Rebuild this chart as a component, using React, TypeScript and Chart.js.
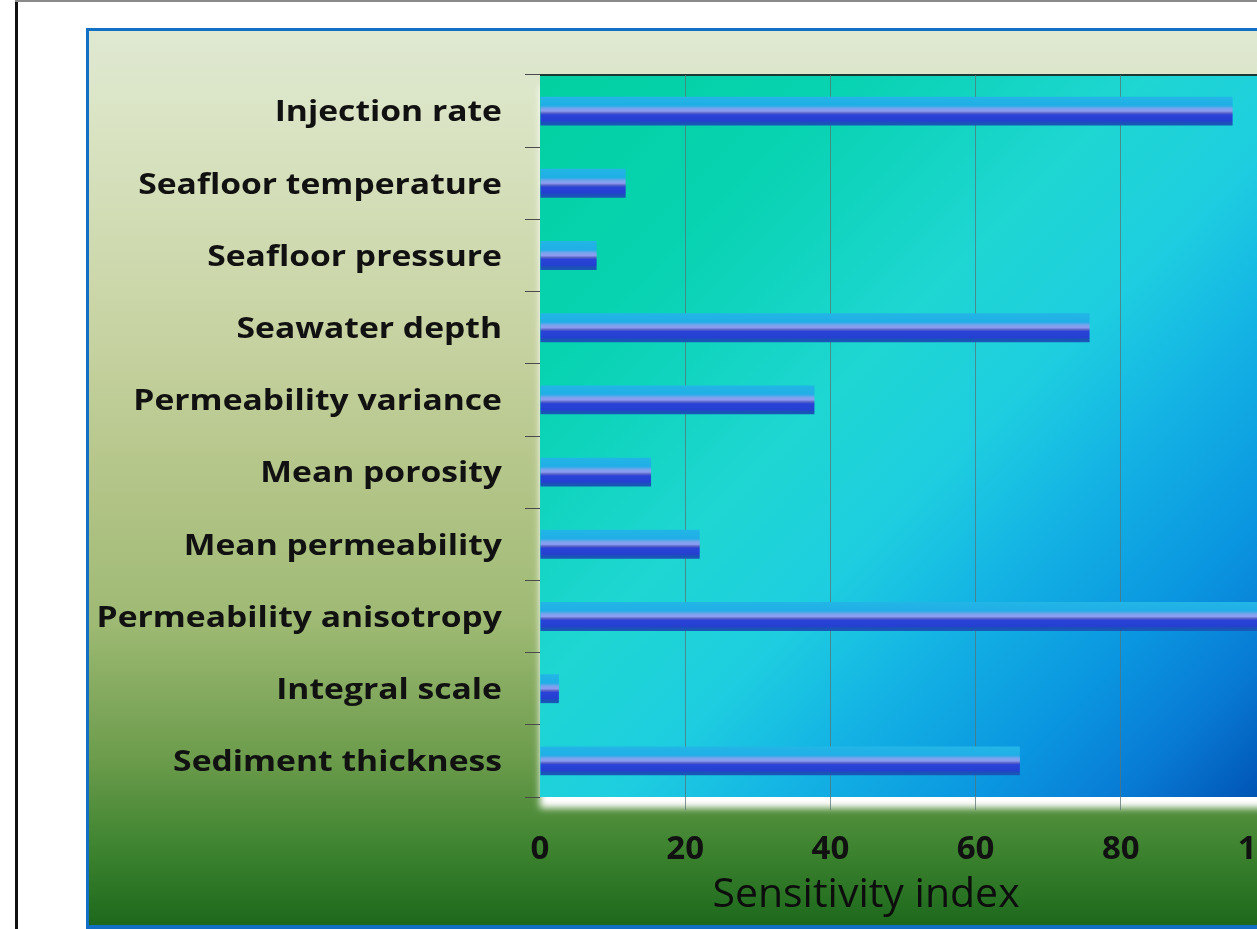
import React, { useEffect, useRef } from 'react';
import { Chart, registerables } from 'chart.js';

Chart.register(...registerables);

// Sensitivity of each model factor
const factors = [
  'Injection rate',
  'Seafloor temperature',
  'Seafloor pressure',
  'Seawater depth',
  'Permeability variance',
  'Mean porosity',
  'Mean permeability',
  'Permeability anisotropy',
  'Integral scale',
  'Sediment thickness',
];
const sensitivity = [95.4, 11.8, 7.8, 75.7, 37.8, 15.3, 22.0, 100, 2.6, 66.1];
const xTickValues = [0, 20, 40, 60, 80, 100];
const axisTitle = 'Sensitivity index';

// Canvas geometry
const CANVAS_W = 1250;
const CANVAS_H = 901;
const PLOT_LEFT = 454;
const PLOT_TOP = 47;
const PLOT_BOTTOM = 769;
const PAD_RIGHT = 70;

const LABEL_FONT = 'bold 29px "Open Sans"';
const LABEL_STRETCH = 1.16;
const LABEL_RIGHT = 416;
const LABEL_SHIFT = 2;
const TITLE_X = 780;
const TITLE_Y = 867;

const backdrop = {
  id: 'backdrop',
  beforeDraw(chart: any) {
    const { ctx, width, height, chartArea: a } = chart;
    ctx.save();

    // panel background: pale olive at the top to deep green at the bottom
    const bg = ctx.createLinearGradient(0, 0, 0, height);
    bg.addColorStop(0, '#dfe8d2');
    bg.addColorStop(0.09, '#dbe5c6');
    bg.addColorStop(0.335, '#c8d3a3');
    bg.addColorStop(0.49, '#b5c68a');
    bg.addColorStop(0.657, '#9fba74');
    bg.addColorStop(0.81, '#6c9c4c');
    bg.addColorStop(0.91, '#3e8430');
    bg.addColorStop(1, '#1b671b');
    ctx.fillStyle = bg;
    ctx.fillRect(0, 0, width, height);

    const w = a.right - a.left;
    const h = a.bottom - a.top;

    // soft white shadow under the plot area
    ctx.save();
    ctx.shadowColor = '#ffffff';
    ctx.shadowBlur = 7;
    ctx.shadowOffsetY = 11;
    ctx.fillStyle = '#ffffff';
    ctx.fillRect(a.left, a.top, w, h);
    ctx.restore();

    // plot area: teal -> cyan -> blue along the diagonal
    const pg = ctx.createLinearGradient(a.left, a.top, a.right, a.bottom);
    pg.addColorStop(0, '#02d0a0');
    pg.addColorStop(0.22, '#08d3b2');
    pg.addColorStop(0.42, '#1ed6d2');
    pg.addColorStop(0.55, '#1ecee0');
    pg.addColorStop(0.66, '#14b4e4');
    pg.addColorStop(0.8, '#0a96e0');
    pg.addColorStop(0.9, '#087ad4');
    pg.addColorStop(1, '#0052b2');
    ctx.fillStyle = pg;
    ctx.fillRect(a.left, a.top, w, h);

    // dark top edge of the plot area
    ctx.strokeStyle = '#1b3a33';
    ctx.lineWidth = 2;
    ctx.beginPath();
    ctx.moveTo(a.left, a.top);
    ctx.lineTo(width, a.top);
    ctx.stroke();

    // blue frame of the chart panel
    ctx.strokeStyle = '#1170c4';
    ctx.lineWidth = 3;
    ctx.beginPath();
    ctx.moveTo(width + 5, 1.5);
    ctx.lineTo(1.5, 1.5);
    ctx.lineTo(1.5, height);
    ctx.stroke();
    ctx.fillStyle = '#1170c4';
    ctx.fillRect(0, height - 4, width, 4);

    ctx.restore();
  },
};

const labelsAndTitle = {
  id: 'labelsAndTitle',
  afterDraw(chart: any) {
    const { ctx } = chart;
    const ys = chart.scales.y;
    ctx.save();
    ctx.fillStyle = '#111111';
    ctx.font = LABEL_FONT;
    ctx.textAlign = 'right';
    ctx.textBaseline = 'middle';
    factors.forEach((name, i) => {
      const py = ys.getPixelForValue(i) + LABEL_SHIFT;
      ctx.save();
      ctx.translate(LABEL_RIGHT, py);
      ctx.scale(LABEL_STRETCH, 1);
      ctx.fillText(name, 0, 0);
      ctx.restore();
    });

    ctx.font = '41px "Open Sans"';
    ctx.textAlign = 'center';
    ctx.fillStyle = '#0d0d0d';
    ctx.fillText(axisTitle, TITLE_X, TITLE_Y);
    ctx.restore();
  },
};

function barFill(c: any) {
  const chart = c.chart;
  const ys = chart.scales && chart.scales.y;
  if (!ys || c.dataIndex === undefined) return '#2a44d8';
  const center = ys.getPixelForValue(c.dataIndex);
  const half = (((ys.bottom - ys.top) / factors.length) * 0.4) / 2;
  if (!Number.isFinite(center) || !Number.isFinite(half) || half <= 0) return '#2a44d8';
  const g = chart.ctx.createLinearGradient(0, center - half, 0, center + half);
  g.addColorStop(0, '#22b6e6');
  g.addColorStop(0.3, '#20aee6');
  g.addColorStop(0.42, '#7ea2ee');
  g.addColorStop(0.5, '#8c9cf0');
  g.addColorStop(0.57, '#5862c6');
  g.addColorStop(0.63, '#2a42d8');
  g.addColorStop(0.84, '#2440d0');
  g.addColorStop(0.9, '#1a52b8');
  g.addColorStop(1, '#1a58b8');
  return g;
}

export default function App() {
  const ref = useRef<HTMLCanvasElement>(null);

  useEffect(() => {
    if (!ref.current) return;
    const chart = new Chart(ref.current, {
      type: 'bar',
      data: {
        labels: factors,
        datasets: [
          {
            data: sensitivity,
            backgroundColor: barFill,
            borderWidth: 0,
            categoryPercentage: 0.8,
            barPercentage: 0.5,
          },
        ],
      },
      options: {
        indexAxis: 'y',
        responsive: false,
        animation: false,
        events: [],
        layout: { padding: { left: 0, top: PLOT_TOP, right: PAD_RIGHT, bottom: 0 } },
        plugins: {
          legend: { display: false },
          tooltip: { enabled: false },
        },
        scales: {
          x: {
            min: 0,
            max: 100,
            afterBuildTicks: (s: any) => {
              s.ticks = xTickValues.map((v) => ({ value: v }));
            },
            afterFit: (s: any) => {
              s.height = CANVAS_H - PLOT_BOTTOM;
            },
            border: { display: false },
            grid: {
              color: (c: any) => (c.tick && c.tick.value === 0 ? 'rgba(0,0,0,0)' : 'rgba(90,115,115,0.75)'),
              lineWidth: 1,
              drawTicks: true,
              tickLength: 13,
            },
            ticks: {
              color: '#111111',
              font: { family: '"Open Sans"', size: 33, weight: 'bold' },
              padding: 20,
              maxRotation: 0,
            },
          },
          y: {
            afterFit: (s: any) => {
              s.width = PLOT_LEFT;
            },
            border: { display: false },
            grid: {
              drawOnChartArea: false,
              drawTicks: true,
              tickLength: 15,
              color: '#4a4a4a',
              lineWidth: 1,
            },
            ticks: { display: false },
          },
        },
      },
      plugins: [backdrop, labelsAndTitle],
    });
    return () => chart.destroy();
  }, []);

  return (
    <div
      style={{
        position: 'fixed',
        left: 0,
        top: 0,
        width: 1257,
        height: 929,
        overflow: 'hidden',
        background: '#ffffff',
      }}
    >
      <div style={{ position: 'absolute', left: 15, top: 0, width: 3, height: 929, background: '#111111' }} />
      <div style={{ position: 'absolute', left: 15, top: 0, right: 0, height: 2, background: '#8a8a8a' }} />
      <canvas
        ref={ref}
        width={CANVAS_W}
        height={CANVAS_H}
        style={{ position: 'absolute', left: 86, top: 28 }}
      />
    </div>
  );
}
